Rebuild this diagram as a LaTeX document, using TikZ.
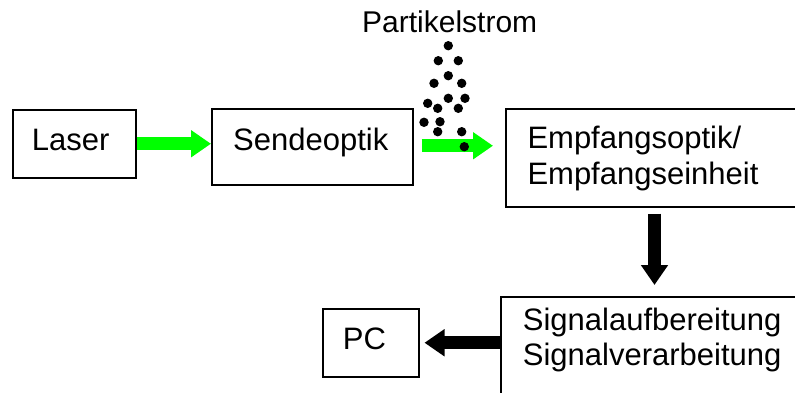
\documentclass[tikz,border=0pt]{standalone}
\usepackage{fontspec}
\setmainfont{Liberation Sans}
\usetikzlibrary{arrows.meta}
\definecolor{lasergreen}{RGB}{0,255,0}
\begin{document}
\begin{tikzpicture}[x=1pt,y=-1pt,
  box/.style={draw,line width=1.5pt,inner sep=0pt,anchor=north west},
  lbl/.style={anchor=base west,inner sep=0pt,font=\fontsize{31}{36}\selectfont},
  fatarrow/.style={line width=13pt,-{Triangle[length=20pt,width=26pt]}},
  greenarrow/.style={fatarrow,draw=lasergreen},
  blackarrow/.style={fatarrow,draw=black},
  particle/.style={fill=black}]
\clip (0,0) rectangle (795,392);
\fill[white] (0,0) rectangle (795,392);

% boxes
\node[box,minimum width=123pt,minimum height=68pt] (laser) at (12,109) {};
\node[box,minimum width=201pt,minimum height=76pt] (sende) at (211,108) {};
\node[box,minimum width=330pt,minimum height=98pt] (empf) at (505,108) {};
\node[box,minimum width=330pt,minimum height=120pt] (sig) at (500,296) {};
\node[box,minimum width=96pt,minimum height=68pt] (pc) at (322,308) {};

% texts
\node[lbl] (lasertxt) at (31.7,150) {Laser};
\node[lbl] (sendetxt) at (233,150) {Sendeoptik};
\node[lbl] (empftxta) at (527.3,148.3) {Empfangsoptik/};
\node[lbl] (empftxtb) at (527.3,184) {Empfangseinheit};
\node[lbl] (sigtxta) at (522.7,330.7) {Signalaufbereitung};
\node[lbl] (sigtxtb) at (522.7,365) {Signalverarbeitung};
\node[lbl] (pctxt) at (342.7,349) {PC};
\node[anchor=base west,inner sep=0pt,font=\fontsize{30}{36}\selectfont] (stream) at (362,32) {Partikelstrom};

% arrows
\draw[greenarrow] (laser.east) -- (laser.east -| sende.west);
\draw[greenarrow,shorten <=8pt,shorten >=12pt] ([yshift=1pt]sende.east) -- ([yshift=1pt]sende.east -| empf.west);
\draw[blackarrow,shorten <=6pt,shorten >=11pt] ([xshift=149.5pt]empf.south west) -- ([xshift=149.5pt]empf.south west |- sig.north);
\draw[blackarrow,shorten >=5pt] (sig.west |- pc.east) -- (pc.east);

% particles
\foreach \px/\py in {448.3/45.7, 438.3/60.7, 458.3/60.7, 448.3/75.7, 434/83.3, 461.7/83.3,
  427.7/103.3, 448.3/98.3, 465/98.3, 437.7/108.3, 458.3/108.3, 424/122.3, 440/121.7,
  437.7/131.7, 461.7/131.7, 464.3/146.7}
  \fill[particle] (\px,\py) circle[radius=4.7pt];
\end{tikzpicture}
\end{document}
